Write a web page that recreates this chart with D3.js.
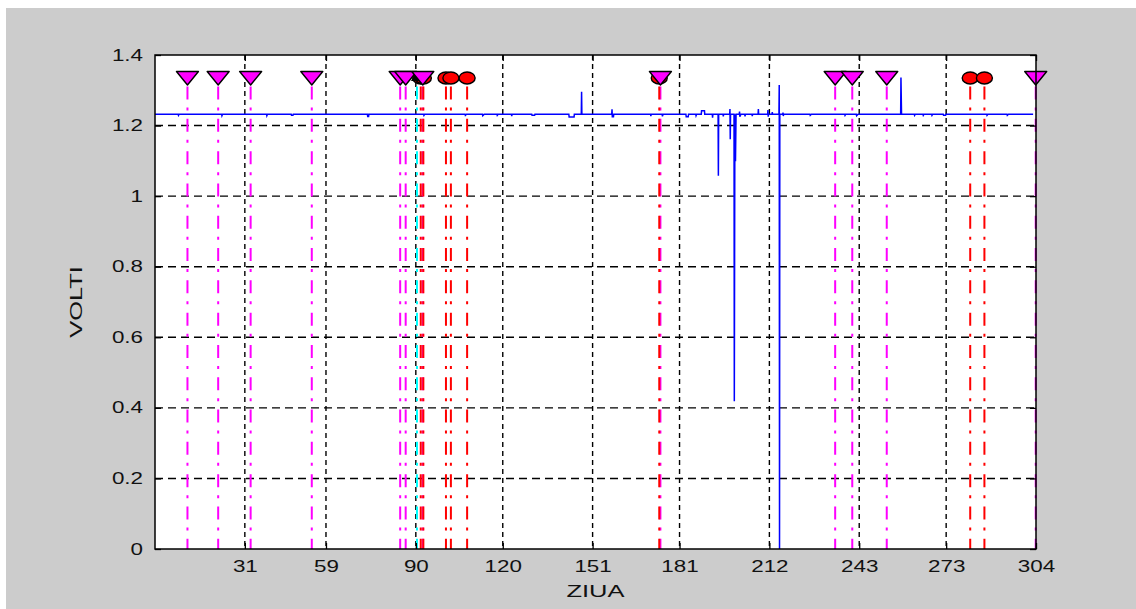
<!DOCTYPE html>
<html><head><meta charset="utf-8">
<script src="https://cdn.jsdelivr.net/npm/d3@7/dist/d3.min.js"></script>
<style>body{margin:0;background:#fff;} svg{display:block;} text{font-family:"Liberation Sans",Arial,sans-serif;}</style>
</head><body><svg id="c" width="1136" height="609"></svg>
<script>
// ---- data ----
const xTicks = [31, 59, 90, 120, 151, 181, 212, 243, 273, 304];
const yTicks = [0, 0.2, 0.4, 0.6, 0.8, 1, 1.2, 1.4];
const xLabel = "ZIUA";
const yLabel = "VOLTI";
// battery voltage record (day, volts)
const voltDays = [0, 8, 8.1, 8.3, 23, 23.1, 23.3, 38.5, 38.6, 38.8, 47, 47.1, 47.6, 47.7, 73.3, 73.4, 73.7, 73.8,
  92.7, 92.8, 93, 107, 107.1, 107.5, 113, 113.1, 113.6, 118, 118.1, 118.4, 123, 123.1, 123.2, 130, 130.1, 131, 131.1,
  142.8, 142.9, 144.6, 144.7, 147.1, 147.2, 147.3, 157.6, 157.7, 157.8, 158.2, 158.3, 171, 171.1, 171.2, 175, 175.1, 175.3,
  183.2, 183.3, 184, 184.1, 186.6, 186.7, 186.9, 188.5, 188.6, 189.6, 189.7, 192.3, 192.4, 192.5, 194.3, 194.4, 194.5, 196, 196.1, 196.2,
  198.3, 198.4, 198.5, 198.6, 199.8, 199.9, 200.1, 200.3, 200.5, 201.6, 201.7, 201.8, 202.2, 203.5, 203.6, 203.7,
  206, 206.1, 206.2, 208.1, 208.2, 208.3, 211.4, 211.5, 211.6, 211.7, 212.9, 213, 213.1, 215.3, 215.4, 215.5, 215.6,
  216.6, 216.7, 216.8, 216.9, 226, 226.1, 226.5, 238, 238.1, 238.3, 242, 242.1, 242.6, 257.3, 257.4, 257.6,
  262, 262.1, 262.3, 265, 265.1, 265.3, 268, 268.1, 268.3, 272, 272.1, 272.8, 272.9, 287, 287.1, 287.4, 294, 294.1, 294.5, 303];
const voltValues = [1.232, 1.232, 1.229, 1.232, 1.232, 1.228, 1.232, 1.232, 1.228, 1.232, 1.232, 1.229, 1.229, 1.232, 1.232, 1.226, 1.226, 1.232,
  1.232, 1.229, 1.232, 1.232, 1.229, 1.232, 1.232, 1.228, 1.232, 1.232, 1.229, 1.232, 1.232, 1.227, 1.232, 1.232, 1.229, 1.229, 1.232,
  1.232, 1.224, 1.224, 1.232, 1.232, 1.296, 1.232, 1.232, 1.246, 1.225, 1.225, 1.232, 1.232, 1.227, 1.232, 1.232, 1.226, 1.232,
  1.232, 1.225, 1.225, 1.232, 1.232, 1.228, 1.232, 1.232, 1.242, 1.242, 1.232, 1.232, 1.222, 1.232, 1.232, 1.058, 1.232, 1.232, 1.226, 1.232,
  1.232, 1.247, 1.161, 1.232, 1.232, 0.419, 1.232, 1.099, 1.232, 1.232, 1.240, 1.225, 1.232, 1.232, 1.226, 1.232,
  1.232, 1.227, 1.232, 1.232, 1.247, 1.232, 1.232, 1.244, 1.225, 1.232, 1.232, 1.238, 1.232, 1.232, 1.315, 0, 1.232,
  1.232, 1.237, 1.227, 1.232, 1.232, 1.229, 1.232, 1.232, 1.229, 1.232, 1.232, 1.228, 1.232, 1.232, 1.336, 1.232,
  1.232, 1.229, 1.232, 1.232, 1.229, 1.232, 1.232, 1.229, 1.232, 1.232, 1.229, 1.229, 1.232, 1.232, 1.229, 1.232, 1.232, 1.229, 1.232, 1.232];
// event markers
const markerLevel = 1.335;
const triangleDays = [11.2, 21.8, 33.0, 54.1, 84.6, 86.5, 92.4, 174.4, 234.7, 240.6, 252.5, 303.9];
const circleDays = [91.7, 92.6, 100.4, 102.1, 107.7, 174.0, 281.3, 286.2];
const blackDays = [90.4];

// ---- drawing ----
const W = 1136, H = 609;
const P = {l: 155, t: 55, r: 1036, b: 549};
const SX = 1.4;
const svg = d3.select('#c');
svg.append('rect').attr('x', 6).attr('y', 8).attr('width', W - 6).attr('height', H - 8).attr('fill', '#cccccc');
svg.append('rect').attr('x', P.l).attr('y', P.t).attr('width', P.r - P.l).attr('height', P.b - P.t).attr('fill', '#fff');

const x = d3.scaleLinear().domain([0, 304]).range([P.l, P.r]);
const y = d3.scaleLinear().domain([0, 1.4]).range([P.b, P.t]);

// grid
const grid = svg.append('g').attr('stroke', '#000').attr('stroke-width', 1.4);
grid.selectAll('.hg').data(yTicks.filter(v => v > 0 && v < 1.4)).join('line')
  .attr('x1', P.l).attr('x2', P.r).attr('y1', d => y(d)).attr('y2', d => y(d))
  .attr('stroke-dasharray', '8,5');
grid.selectAll('.vg').data(xTicks.filter(v => v < 304)).join('line')
  .attr('x1', d => x(d)).attr('x2', d => x(d)).attr('y1', P.t).attr('y2', P.b)
  .attr('stroke-dasharray', '5,4');

// voltage line
const pts = voltDays.map((d, i) => [d, voltValues[i]]);
svg.append('path').datum(pts)
  .attr('d', d3.line().x(d => x(d[0])).y(d => y(d[1])))
  .attr('fill', 'none').attr('stroke', '#0000ff').attr('stroke-width', 1.5);

// event stems
function stems(days, color) {
  svg.append('g').selectAll('line').data(days).join('line')
    .attr('x1', d => x(d)).attr('x2', d => x(d))
    .attr('y1', y(markerLevel)).attr('y2', y(0))
    .attr('stroke', color).attr('stroke-width', 2)
    .attr('stroke-dasharray', '13,8,3,8.3').attr('stroke-dashoffset', 23.7);
}
stems(blackDays, '#00ffff');
stems(triangleDays, '#ff00ff');
stems(circleDays, '#ff0000');

// markers
svg.append('g').selectAll('ellipse').data(circleDays).join('ellipse')
  .attr('cx', d => x(d)).attr('cy', y(markerLevel)).attr('rx', 8).attr('ry', 6)
  .attr('fill', '#ff0000').attr('stroke', '#000').attr('stroke-width', 1.4);
svg.append('g').selectAll('path').data(blackDays).join('path')
  .attr('transform', d => `translate(${x(d)},${y(markerLevel) - 2})`)
  .attr('d', 'M-6,5L6,5L0,-5Z').attr('fill', '#000');
svg.append('g').selectAll('path').data(triangleDays).join('path')
  .attr('transform', d => `translate(${x(d)},${y(markerLevel)})`)
  .attr('d', 'M-11,-6.5L11,-6.5L0,7Z')
  .attr('fill', '#ff00ff').attr('stroke', '#000').attr('stroke-width', 1.4).attr('stroke-linejoin', 'round');

// axes box and ticks
svg.append('rect').attr('x', P.l).attr('y', P.t).attr('width', P.r - P.l).attr('height', P.b - P.t)
  .attr('fill', 'none').attr('stroke', '#000').attr('stroke-width', 1.5);

function styleAxis(g) {
  g.select('.domain').remove();
  g.selectAll('.tick line').attr('stroke', '#000').attr('stroke-width', 1.3);
  g.selectAll('.tick text').attr('fill', '#111').attr('font-size', 16)
    .attr('font-family', '"Liberation Sans",Arial,sans-serif');
}
const fmt = d => String(d);
const gb = svg.append('g').attr('transform', `translate(0,${P.b})`)
  .call(d3.axisBottom(x).tickValues(xTicks).tickFormat(fmt).tickSizeInner(-6).tickSizeOuter(0).tickPadding(12));
styleAxis(gb);
gb.selectAll('.tick text').attr('transform', `scale(${SX},1)`);
const gt = svg.append('g').attr('transform', `translate(0,${P.t})`)
  .call(d3.axisTop(x).tickValues(xTicks).tickFormat('').tickSizeInner(-6).tickSizeOuter(0));
styleAxis(gt);
const gl = svg.append('g').attr('transform', `translate(${P.l},0)`)
  .call(d3.axisLeft(y).tickValues(yTicks).tickFormat(fmt).tickSizeInner(-6).tickSizeOuter(0).tickPadding(12));
styleAxis(gl);
gl.selectAll('.tick text').attr('x', -12 / SX).attr('transform', `scale(${SX},1)`);
const gr = svg.append('g').attr('transform', `translate(${P.r},0)`)
  .call(d3.axisRight(y).tickValues(yTicks).tickFormat('').tickSizeInner(-6).tickSizeOuter(0));
styleAxis(gr);

// axis labels
svg.append('text').attr('transform', `translate(${(P.l + P.r) / 2},597) scale(1.5,1)`)
  .attr('text-anchor', 'middle').attr('font-size', 17).attr('fill', '#111').text(xLabel);
svg.append('text').attr('transform', `translate(82,${(P.t + P.b) / 2}) rotate(-90) scale(1.5,1)`)
  .attr('text-anchor', 'middle').attr('font-size', 17).attr('fill', '#111').text(yLabel);
</script>
</body></html>
